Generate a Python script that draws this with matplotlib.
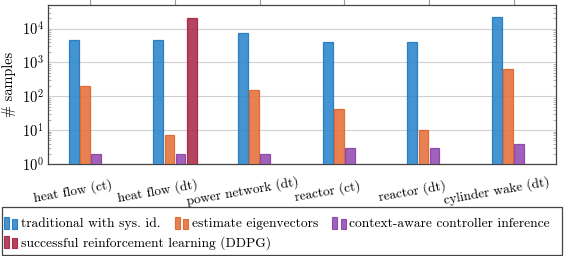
import matplotlib
matplotlib.use("Agg")
import matplotlib.pyplot as plt
import matplotlib.transforms as mtransforms
import numpy as np
from matplotlib.patches import Rectangle
from matplotlib.legend_handler import HandlerBase
from matplotlib.ticker import LogLocator, NullFormatter

categories = ["heat flow (ct)", "heat flow (dt)", "power network (dt)",
              "reactor (ct)", "reactor (dt)", "cylinder wake (dt)"]
traditional = [4500, 4500, 7300, 3900, 3900, 21500]
eigenvectors = [200, 7, 150, 42, 10, 650]
context_aware = [2, 2, 2, 3, 3, 4]
ddpg = [np.nan, 20000, np.nan, np.nan, np.nan, np.nan]

labels = ["traditional with sys. id.", "estimate eigenvectors",
          "context-aware controller inference",
          "successful reinforcement learning (DDPG)"]
fills = ["#2e89cc", "#e5733f", "#9650b3", "#ad2f4c"]
edges = ["#1f77c0", "#e06328", "#8a3fa8", "#a52040"]

plt.rcParams["font.family"] = "cmr10"
plt.rcParams["mathtext.fontset"] = "cm"
plt.rcParams["axes.formatter.use_mathtext"] = True
FS = 9.7


class TwoBarHandler(HandlerBase):
    # pgfplots style legend image: two small bars
    def create_artists(self, legend, orig, xd, yd, w, h, fontsize, trans):
        fc = orig.get_facecolor()
        ec = orig.get_edgecolor()
        bw = w * 0.36
        y0 = yd - 0.2 * h
        r1 = Rectangle((xd, y0), bw, h * 1.3, facecolor=fc,
                       edgecolor=ec, lw=0.8, transform=trans)
        r2 = Rectangle((xd + w * 0.62, y0), bw, h * 1.05,
                       facecolor=fc, edgecolor=ec, lw=0.8, transform=trans)
        return [r1, r2]


fig = plt.figure(figsize=(5.64, 2.56), dpi=100)
ax = fig.add_axes([48 / 564, 92 / 256, 508 / 564, 159 / 256])

x = np.arange(len(categories))
step = 0.13
width = 0.118
series = [traditional, eigenvectors, context_aware, ddpg]
bars = []
for i, vals in enumerate(series):
    b = ax.bar(x + (i - 1.5) * step, vals, width,
               color=fills[i], edgecolor=edges[i], linewidth=0.9,
               alpha=0.9, label=labels[i], zorder=3)
    bars.append(b)

ax.set_yscale("log")
ax.set_ylim(1, 5e4)
ax.set_xlim(-0.5, len(categories) - 0.5)
ax.set_ylabel("# samples", fontsize=10.3, labelpad=4)

ax.set_xticks(x)
ax.set_xticklabels(categories, rotation=10, fontsize=9.6, ha="center",
                   va="center", rotation_mode="anchor")
ax.tick_params(axis="x", which="both", top=True, bottom=False,
               labeltop=False, labelbottom=True, direction="out",
               length=4, color="#999999", pad=15.5)
shift = mtransforms.ScaledTranslation(-0.17, 0, fig.dpi_scale_trans)
for lab in ax.get_xticklabels():
    lab.set_transform(lab.get_transform() + shift)

ax.yaxis.set_major_locator(LogLocator(base=10, numticks=10))
ax.yaxis.set_minor_locator(LogLocator(base=10, subs=np.arange(2, 10), numticks=10))
ax.yaxis.set_minor_formatter(NullFormatter())
ax.tick_params(axis="y", which="major", left=True, right=True,
               direction="in", length=0, labelsize=10.5, pad=3)
ax.tick_params(axis="y", which="minor", left=True, right=True,
               direction="in", length=2.5, color="#aaaaaa")

ax.grid(axis="y", which="major", color="#d0d0d0", linewidth=0.8, zorder=0)
for s in ax.spines.values():
    s.set_color("#444444")
    s.set_linewidth(0.9)

# legend: row one holds three entries, row two the DDPG entry
leg_kw = dict(fontsize=FS, frameon=False, handlelength=1.0,
              handletextpad=0.27, columnspacing=1.05, borderpad=0,
              borderaxespad=0, handler_map={Rectangle: TwoBarHandler()})
row1 = [bars[0].patches[0], bars[1].patches[0], bars[2].patches[0]]
leg1 = fig.legend(row1, labels[:3], ncol=3, loc="center left",
                  bbox_to_anchor=(4 / 564, 1 - 224 / 256), **leg_kw)
leg2 = fig.legend([bars[3].patches[1]], labels[3:], ncol=1, loc="center left",
                  bbox_to_anchor=(4 / 564, 1 - 243 / 256), **leg_kw)
frame = Rectangle((1.5 / 564, 1 - 255 / 256), 560.5 / 564, 48 / 256,
                  transform=fig.transFigure, facecolor="none",
                  edgecolor="#444444", linewidth=0.9)
fig.add_artist(frame)

fig.savefig("out.png", dpi=100)
